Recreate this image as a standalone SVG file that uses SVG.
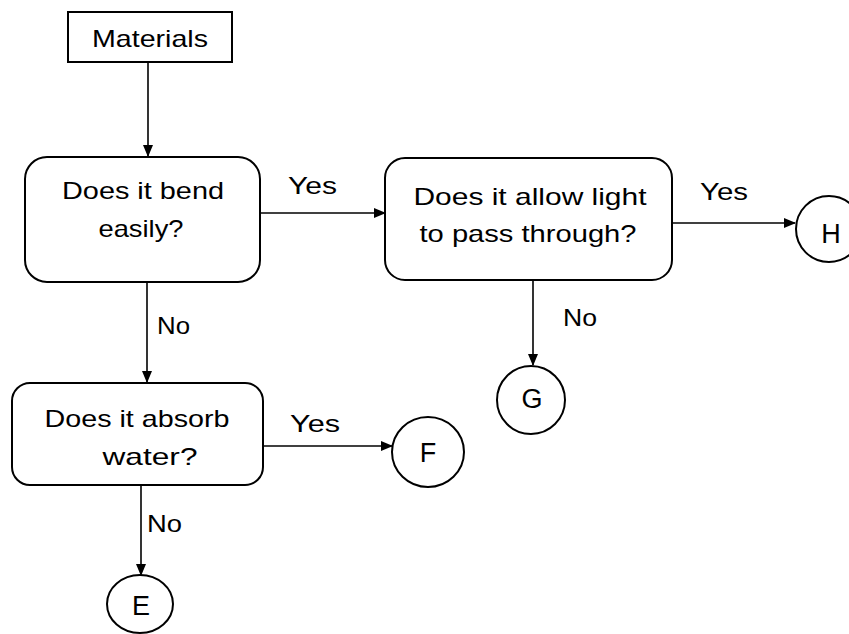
<svg xmlns="http://www.w3.org/2000/svg" width="849" height="634" viewBox="0 0 849 634">
<style>
.box{fill:#fff;stroke:#000;stroke-width:2}
.t{font-family:"Liberation Sans",Arial,sans-serif;font-size:24px;fill:#000;text-anchor:middle}
.l{font-family:"Liberation Sans",Arial,sans-serif;font-size:24px;fill:#000}
.k{font-family:"Liberation Sans",Arial,sans-serif;font-size:27px;fill:#000;text-anchor:middle}
.c{stroke:#000;stroke-width:1.6;fill:none;marker-end:url(#ah)}
</style>
<defs>
<marker id="ah" markerWidth="12" markerHeight="10" refX="11" refY="5" orient="auto" markerUnits="userSpaceOnUse">
<path d="M0,0 L12,5 L0,10 Z" fill="#000"/>
</marker>
</defs>
<rect width="849" height="634" fill="#fff"/>
<g id="connectors">
<line class="c" x1="148" y1="62" x2="148" y2="156"/>
<line class="c" x1="260" y1="213" x2="385" y2="213"/>
<line class="c" x1="672" y1="223" x2="795" y2="223"/>
<line class="c" x1="533" y1="281" x2="533" y2="365"/>
<line class="c" x1="147" y1="283" x2="147" y2="382"/>
<line class="c" x1="263" y1="446" x2="392" y2="446"/>
<line class="c" x1="141" y1="485" x2="141" y2="575"/>
<text class="l" x="288" y="194" textLength="49" lengthAdjust="spacingAndGlyphs">Yes</text>
<text class="l" x="700" y="200" textLength="48" lengthAdjust="spacingAndGlyphs">Yes</text>
<text class="l" x="563" y="326" textLength="34" lengthAdjust="spacingAndGlyphs">No</text>
<text class="l" x="157" y="334" textLength="33" lengthAdjust="spacingAndGlyphs">No</text>
<text class="l" x="290" y="432" textLength="50" lengthAdjust="spacingAndGlyphs">Yes</text>
<text class="l" x="147" y="532" textLength="35" lengthAdjust="spacingAndGlyphs">No</text>
</g>
<g id="materials">
<rect class="box" x="68" y="12" width="164" height="50"/>
<text class="t" x="150" y="47" textLength="116" lengthAdjust="spacingAndGlyphs">Materials</text>
</g>
<g id="bend">
<rect class="box" x="25" y="157" width="235" height="125" rx="22"/>
<text class="t" x="143" y="199" textLength="162" lengthAdjust="spacingAndGlyphs">Does it bend</text>
<text class="t" x="141" y="237" textLength="85" lengthAdjust="spacingAndGlyphs">easily?</text>
</g>
<g id="light">
<rect class="box" x="385" y="158" width="287" height="122" rx="20"/>
<text class="t" x="530" y="205" textLength="233" lengthAdjust="spacingAndGlyphs">Does it allow light</text>
<text class="t" x="528" y="242" textLength="217" lengthAdjust="spacingAndGlyphs">to pass through?</text>
</g>
<g id="absorb">
<rect class="box" x="12" y="383" width="251" height="102" rx="18"/>
<text class="t" x="137" y="427" textLength="185" lengthAdjust="spacingAndGlyphs">Does it absorb</text>
<text class="t" x="150" y="465" textLength="95" lengthAdjust="spacingAndGlyphs">water?</text>
</g>
<g id="H">
<ellipse class="box" cx="829" cy="229" rx="33" ry="33"/>
<text class="k" x="831" y="243">H</text>
</g>
<g id="G">
<ellipse class="box" cx="531" cy="400" rx="34" ry="34"/>
<text class="k" x="532" y="408">G</text>
</g>
<g id="F">
<ellipse class="box" cx="428" cy="452" rx="36" ry="35"/>
<text class="k" x="428" y="462">F</text>
</g>
<g id="E">
<ellipse class="box" cx="140" cy="604" rx="33" ry="29"/>
<text class="k" x="141" y="615">E</text>
</g>
</svg>
